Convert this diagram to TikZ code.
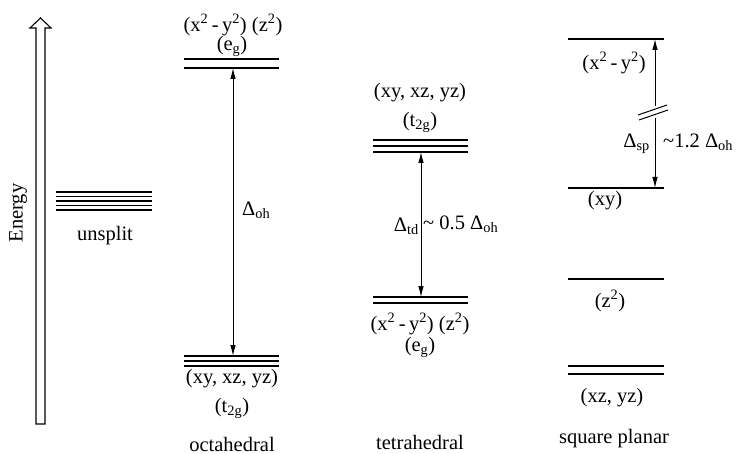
\documentclass[tikz,border=0pt]{standalone}
\usepackage{fontspec}
\setmainfont{Liberation Serif}
\usetikzlibrary{arrows.meta}
\newcommand{\lo}[1]{\textsubscript{#1}}
\newcommand{\hi}[1]{\textsuperscript{#1}}
\tikzset{
  level/.style={line width=2pt},
  split/.style={line width=0.9pt, {Latex[length=11pt,width=5.5pt]}-{Latex[length=11pt,width=5.5pt]}},
  lbl/.style={inner sep=0pt, font=\fontsize{20.5}{24}\selectfont},
}
\begin{document}
\begin{tikzpicture}[x=1pt, y=-1pt]
  \useasboundingbox (0,0) rectangle (738,454);
  % Energy axis
  \draw[line width=1.1pt] (36,424) -- (36,28) -- (30,28) -- (40.5,18) -- (51,28) -- (45,28) -- (45,424) -- cycle;
  \node[lbl, rotate=90] (energy) at (18,213) {Energy};
  % Unsplit
  \foreach \y in {192,196.5,201,205.5,210}
    \draw[level, line width=1.8pt] (56,\y) -- (152,\y);
  \node[lbl] (free) at (105,236) {unsplit};
  % Octahedral
  \draw[level] (184,59) -- (279,59);
  \draw[level] (184,68) -- (279,68);
  \foreach \y in {356,361,366}
    \draw[level] (184,\y) -- (279,\y);
  \node[lbl] (oheg) at (233,25) {(x\hi{2}\,-\,y\hi{2}) (z\hi{2})};
  \node[lbl] (ohegname) at (232,46) {(e\lo{g})};
  \node[lbl] (oht) at (232,379) {(xy, xz, yz)};
  \node[lbl] (ohtname) at (232,408) {(t\lo{2g})};
  \node[lbl] (oh) at (232,444) {octahedral};
  \coordinate (ohtop) at (233,68);
  \coordinate (ohbot) at (233,356);
  \draw[split] (ohtop) -- (ohbot);
  \node[lbl, anchor=west] (doh) at (242,210) {Δ\lo{oh}};
  % Tetrahedral
  \foreach \y in {140,146,152}
    \draw[level] (373,\y) -- (468,\y);
  \draw[level] (373,297) -- (468,297);
  \draw[level] (373,303) -- (468,303);
  \node[lbl] (tdt) at (420,93) {(xy, xz, yz)};
  \node[lbl] (tdtname) at (420,122) {(t\lo{2g})};
  \node[lbl] (tdeg) at (420,324) {(x\hi{2}\,-\,y\hi{2}) (z\hi{2})};
  \node[lbl] (tdegname) at (420,347) {(e\lo{g})};
  \node[lbl] (td) at (420,442) {tetrahedral};
  \coordinate (tdtop) at (421,152);
  \coordinate (tdbot) at (421,297);
  \draw[split] (tdtop) -- (tdbot);
  \node[lbl, anchor=east] (dtd) at (419,226) {Δ\lo{td}};
  \node[lbl, anchor=west] (dtdoh) at (423,224) {\textasciitilde\ 0.5 Δ\lo{oh}};
  % Square planar
  \draw[level] (568,39) -- (664,39);
  \draw[level] (568,188) -- (664,188);
  \draw[level] (568,279) -- (664,279);
  \draw[level] (568,366) -- (664,366);
  \draw[level] (568,374) -- (664,374);
  \node[lbl] (spx) at (614,63) {(x\hi{2}\,-\,y\hi{2})};
  \node[lbl] (spxy) at (605,201) {(xy)};
  \node[lbl] (spz) at (610,301) {(z\hi{2})};
  \node[lbl] (spxz) at (612,398) {(xz, yz)};
  \node[lbl] (sp) at (614,439) {square planar};
  \coordinate (sptop) at (655,39);
  \coordinate (spbot) at (655,188);
  \coordinate (spcut) at (655,106);
  \coordinate (spcutb) at (655,118);
  \draw[line width=0.9pt, -{Latex[length=11pt,width=5.5pt]}] (spcut) -- (sptop);
  \draw[line width=0.9pt, -{Latex[length=11pt,width=5.5pt]}] (spcutb) -- (spbot);
  \draw[line width=1pt] (638,115) -- (667,105);
  \draw[line width=1pt] (639,120) -- (668,110);
  \node[lbl, anchor=east] (dsp) at (650,144) {Δ\lo{sp}};
  \node[lbl, anchor=west] (dspoh) at (663,142) {\textasciitilde 1.2 Δ\lo{oh}};
\end{tikzpicture}
\end{document}
